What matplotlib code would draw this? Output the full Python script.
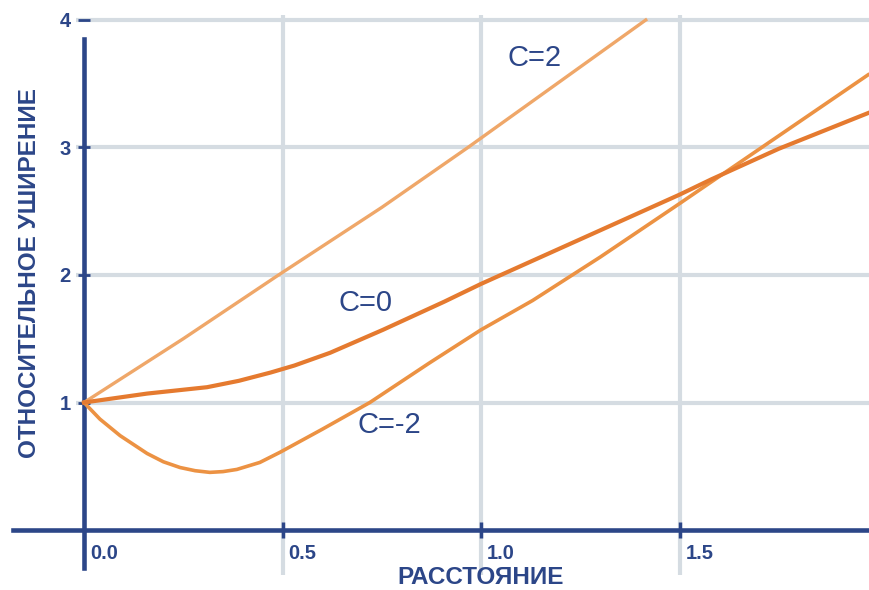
import matplotlib as mpl
import matplotlib.pyplot as plt
import matplotlib.transforms as mtransforms

mpl.use('Agg')

# curves
c2_x = [0.0, 0.25, 0.49, 0.75, 0.967, 1.2, 1.415]
c2_y = [1.0, 1.5, 2.0, 2.53, 3.0, 3.52, 4.0]

c0_x = [0.0, 0.159, 0.31, 0.39, 0.47, 0.53, 0.62, 0.753, 0.907, 1.0, 1.15,
        1.3, 1.5, 1.58, 1.75, 1.975]
c0_y = [1.0, 1.07, 1.12, 1.17, 1.235, 1.29, 1.39, 1.57, 1.79, 1.93, 2.14,
        2.35, 2.63, 2.75, 2.99, 3.27]

cm2_x = [0.0, 0.04, 0.091, 0.159, 0.20, 0.242, 0.28, 0.317, 0.35, 0.385,
         0.443, 0.494, 0.6, 0.72, 0.87, 1.0, 1.13, 1.3, 1.5, 1.975]
cm2_y = [1.0, 0.87, 0.74, 0.60, 0.535, 0.49, 0.465, 0.452, 0.458, 0.475,
         0.53, 0.61, 0.79, 1.0, 1.31, 1.57, 1.8, 2.14, 2.56, 3.57]

x_ticks = [0.0, 0.5, 1.0, 1.5]
x_tick_labels = ['0.0', '0.5', '1.0', '1.5']
y_ticks = [1, 2, 3, 4]
y_tick_labels = ['1', '2', '3', '4']

NAVY = '#2c4688'
GRID = '#d5dce2'

plt.rcParams['font.family'] = ['Liberation Sans', 'DejaVu Sans']

fig = plt.figure(figsize=(8.69, 5.90), dpi=100)
# axes box in pixels: x 76..869, y 15..575
ax = fig.add_axes([76 / 869, 1 - 575 / 590, (869 - 76) / 869, (575 - 15) / 590])
ax.set_xlim(-8 / 397, (869 - 84) / 397)
ax.set_ylim(-45 / 127.5, 515 / 127.5)

for s in ['top', 'right']:
    ax.spines[s].set_visible(False)
ax.spines['left'].set_position(('data', 0))
ax.spines['bottom'].set_position(('data', 0))
ax.spines['left'].set_bounds(-0.3, 3.85)
ax.spines['bottom'].set_bounds(-0.18, 1.98)
for s in ['left', 'bottom']:
    ax.spines[s].set_color(NAVY)
    ax.spines[s].set_linewidth(3.3)
    ax.spines[s].set_zorder(3)

ax.plot(c2_x, c2_y, color='#efa769', lw=2.4, zorder=4, clip_on=False,
        solid_joinstyle='round')
ax.plot(cm2_x, cm2_y, color='#ec9243', lw=2.6, zorder=4,
        solid_joinstyle='round')
ax.plot(c0_x, c0_y, color='#e57a2f', lw=3.0, zorder=5,
        solid_joinstyle='round')

ax.grid(True, color=GRID, linewidth=3, zorder=0)
ax.tick_params(axis='y', direction='inout', length=9, width=2, color=NAVY,
               labelcolor=NAVY, pad=5)
ax.tick_params(axis='x', direction='inout', length=12, width=2.5, color=NAVY,
               labelcolor=NAVY, pad=4)

ax.set_yticks(y_ticks, y_tick_labels)
ax.set_xticks(x_ticks, x_tick_labels)

# no tick mark or gridline at x = 0, the axis is there
ax.xaxis.get_major_ticks()[0].tick1line.set_visible(False)
ax.xaxis.get_major_ticks()[0].gridline.set_visible(False)

# x tick labels sit just right of the ticks
shift = mtransforms.ScaledTranslation(6 / 100, 0, fig.dpi_scale_trans)
for lab in ax.get_xticklabels():
    lab.set_horizontalalignment('left')
    lab.set_transform(lab.get_transform() + shift)
for lab in ax.get_xticklabels() + ax.get_yticklabels():
    lab.set_fontsize(14.5)
    lab.set_fontweight('bold')

ax.text(1.135, 3.70, 'C=2', color=NAVY, fontsize=21, ha='center', va='center')
ax.text(0.71, 1.78, 'C=0', color=NAVY, fontsize=21, ha='center', va='center')
ax.text(0.77, 0.82, 'C=-2', color=NAVY, fontsize=21, ha='center', va='center')

fig.text(30 / 869, 1 - 273 / 590, 'ОТНОСИТЕЛЬНОЕ УШИРЕНИЕ', rotation=90,
         color=NAVY, fontsize=17.5, fontweight='bold', ha='center', va='center')
fig.text(481 / 869, 1 - 578 / 590, 'РАССТОЯНИЕ', color=NAVY, fontsize=17.5,
         fontweight='bold', ha='center', va='center')

fig.savefig('out.png', dpi=100)
